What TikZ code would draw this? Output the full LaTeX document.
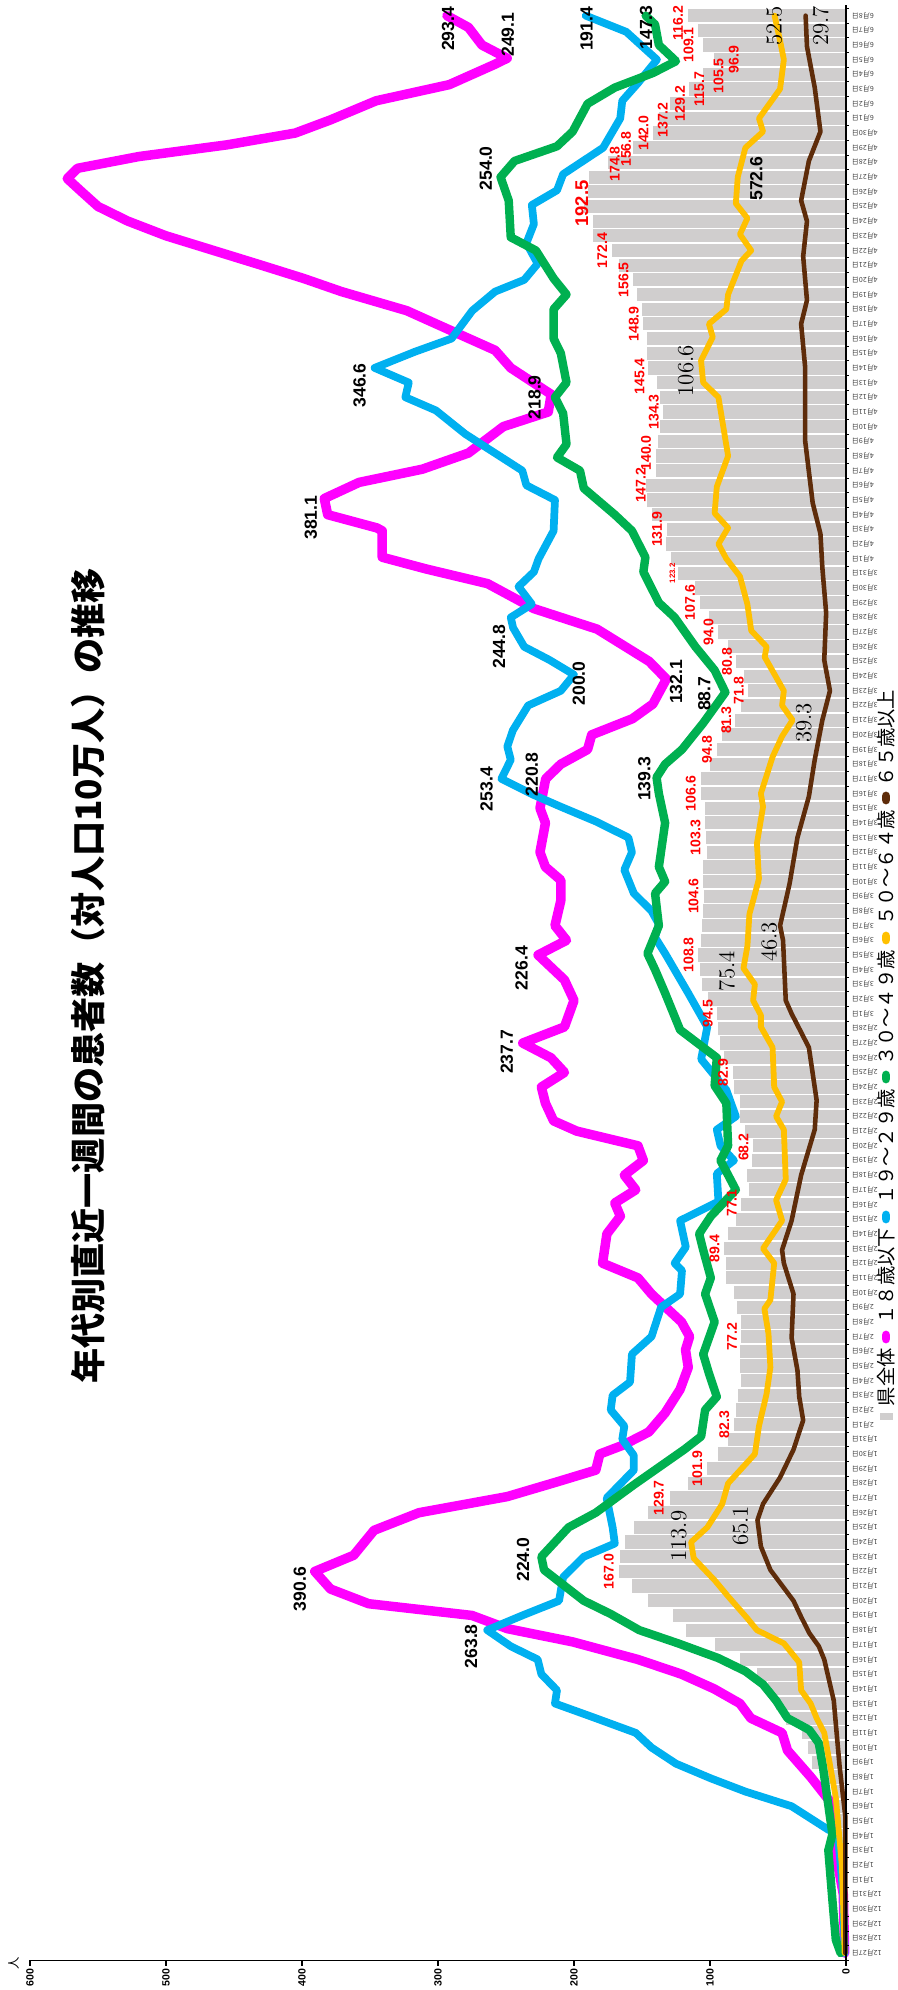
\documentclass[tikz,border=0pt]{standalone}
\usepackage{fontspec}
\newfontfamily\jp{Noto Sans CJK JP}
\newfontfamily\numf{Liberation Sans}
\definecolor{Mg}{RGB}{255,0,255}
\definecolor{Az}{RGB}{0,176,240}
\definecolor{Vd}{RGB}{0,176,80}
\definecolor{Nj}{RGB}{255,192,0}
\definecolor{Mr}{RGB}{94,44,10}
\definecolor{Gr}{RGB}{208,206,206}
\definecolor{Rj}{RGB}{255,0,0}
\tikzset{
  serie/.style={line width=#1, line join=round, line cap=round},
  barra/.style={fill=Gr},
  rotulo/.style={font=\numf\bfseries\fontsize{10}{10}\selectfont, rotate=90, inner sep=0pt},
  rotulorojo/.style={font=\numf\bfseries\fontsize{8}{8}\selectfont, text=Rj, rotate=90, inner sep=0pt},
  rotuloserif/.style={font=\fontsize{13}{13}\selectfont, rotate=90, inner sep=0pt},
  fecha/.style={font=\jp\fontsize{4}{4}\selectfont, text=black!75, rotate=180, anchor=east, inner sep=0.3pt},
  ejenum/.style={font=\numf\bfseries\fontsize{6}{6}\selectfont, rotate=90, anchor=east, inner sep=1pt},
  leyenda/.style={font=\jp\fontsize{11}{11}\selectfont, rotate=90, inner sep=0pt},
}
\begin{document}
\begin{tikzpicture}[x=0.02cm, y=-0.02cm]
  \useasboundingbox (0,0) rectangle (898,1990);

  %Titulo
  \node[rotate=90, font=\jp\bfseries\fontsize{20}{20}\selectfont] (titulo) at (88,976)
    {年代別直近一週間の患者数（対人口10万人）の推移};

  %Ejes de datos: x = dia, y = valor
  \begin{scope}[shift={(846,1953)}, x={(0cm,0.2936cm)}, y={(-0.0272cm,0cm)}]

    %Barras del total (県全体)
    \foreach \v [count=\i from 0] in {1,1,1.5,2,2,2.5,3,3.5,4,5,7,10,14,
      25,28.2,32.7,44.3,51.4,57.6,65.5,77.9,96.6,117.5,127.1,145.5,
      157,167.0,166,162.5,156,145.5,129.7,116,101.9,93.8,86.7,82.3,
      81,79.6,77.4,77.6,78,77.2,77.3,80.5,82,88,88.5,89.4,
      86.7,81,77.1,71,72.5,69,68.2,74.5,78,78,82.4,82.9,
      89.5,92.3,94.3,94.5,101.7,105.6,107,108.8,106.5,105.6,105,104.6,
      105,105,102,103.3,104,104,106.6,106.6,100,94.8,91,81.3,
      77,71.8,75,80.8,86.7,94.0,101,107.6,110.7,123.2,129,132,
      131.9,143,146,147.2,140,140.0,138,137,134.3,137,139,145.4,
      146,146,148.9,150,153.7,156.5,167,172.4,185.7,186,192.5,190,
      189,174.8,156.8,142.0,137.2,129.2,115.7,105.5,96.9,105,109.1,116.2}
      \fill[barra] (\i-0.45,0) rectangle (\i+0.45,\v);

    %18歳以下
    \draw[serie=5.4pt, Mg] plot coordinates {(0,1) (4,2) (6.8,7.5) (10,9) (12,26) (13.8,43) (15,47)
      (16,70) (17,78) (18,97) (19,121) (20,153) (21.2,201) (22.1,249) (23,275) (23.8,351) (24.8,379)
      (26,390.6) (27.1,362) (28.8,347) (30,314) (31.1,249) (32.1,212.5) (32.9,184) (34,181) (34.6,164)
      (35.5,145) (36.8,133) (38.4,122) (39.9,116) (41.1,118) (42,115) (43,121) (44.9,143) (46,153)
      (47,179) (49,175.8) (50.2,165.9) (51.1,170) (52,154.6) (53,163) (54,149) (55,153) (56,198)
      (56.7,215) (57.9,221) (59,224) (60,207) (61,217) (62,237.7) (63.1,207) (64.9,200) (66.3,207)
      (68,226.4) (69,205.5) (70,214) (71.7,209.7) (73.1,209.7) (74,221) (75,225) (77,221) (78,225)
      (80,220.8) (81,209.7) (82,190) (83,187) (84.1,157) (85.1,142) (86.8,132.1) (88,144.7) (90.2,183)
      (91.6,229.5) (93.3,263.5) (94.3,308.7) (95.1,341) (96.9,341) (97.1,345) (98,381.1) (99.1,383.6)
      (100.2,358) (101.1,311.5) (102.2,277.6) (104,252) (105,218.9) (106.2,216.8) (108,246.5)
      (109.2,258) (110.6,291.8) (111.9,323) (113.2,371) (114.1,399) (115,430) (116,465) (117,500)
      (118,528) (119,550) (120,562) (120.9,572.6) (121.6,565) (122.4,520) (123.2,455) (124,405)
      (124.9,379) (126.2,345.5) (127.3,291.7) (128.7,257.8) (129.1,249.1) (130,267.7) (131.2,277.6)
      (132,293.4)};

    %19～29歳
    \draw[serie=4.4pt, Az] plot coordinates {(0,1) (4,2) (8.1,6) (8.4,13) (10,40) (11,74) (11.9,99.4)
      (12.9,125) (14,143) (15,154.6) (16.1,187) (17,214) (17.9,212.5) (19,224) (20,226.7) (20.9,246.5)
      (22,263.8) (23,238) (24,211) (25.6,208) (27,192.8) (27.9,170) (29,171.6) (31,176) (32.9,156)
      (33.9,156) (35,164.5) (35.9,163) (37,173) (38,171.6) (38.9,158.8) (40.8,157.4) (42,143) (44,136)
      (44.9,122) (46.5,120.6) (47,126) (48.1,117.8) (49.9,122) (51.2,93.8) (53.1,95) (54,82.4)
      (55,92.3) (56.1,95) (57,81) (58.8,88) (60.9,106.5) (63.1,102) (65.4,116) (68.1,133) (69.2,140.4)
      (70.1,137.6) (71,143) (72.2,156) (73.8,163) (75,157.4) (76,160) (77.1,184) (78.1,209.7)
      (78.9,229.5) (80,253.4) (81.3,246.5) (82.2,249) (83.3,245) (85,233.7) (86,209.7) (87.1,200.0)
      (88.1,218) (89,236.6) (90.3,244.8) (91,246.5) (91.9,231) (93.1,240.8) (94.1,229.5) (95,226)
      (96.9,215) (99,214) (100,235) (101,238) (103.5,280) (105.1,301.5) (106,324) (107,321.5)
      (108,346.6) (109.1,317) (110,290) (111.9,274.8) (113.2,258) (114,236.6) (115.1,226.7)
      (116.5,235) (117.8,229.5) (119.1,231) (120.1,212.5) (121.2,208) (123,178.6) (125,166)
      (126.2,164.5) (127.4,153) (129,139) (130.9,161.6) (132,191.4)};

    %30～49歳
    \draw[serie=4.8pt, Vd] plot coordinates {(0,4) (0.9,7.5) (3.6,10) (7,13) (8.1,10) (12.7,17)
      (14.3,20) (15.2,27) (16,43) (17.2,51.4) (18.3,61) (19.2,74) (20.1,94) (21.1,123.5) (22,152)
      (23.1,173) (24,192.8) (26.1,222) (27,224.0) (29,204) (30,184) (31.9,156) (34.3,119) (35.2,106.5)
      (37,103.6) (37.9,95) (39.5,100.8) (40.8,105) (43,96.6) (44.9,103.6) (46,99.4) (47.9,105) (49,108)
      (50.2,99.4) (52,81) (54,92.3) (55,86.7) (57.9,88) (59.1,96.6) (61,95) (62.9,122) (65.4,133)
      (67,140.4) (68.1,146) (70,137.6) (72.2,140.4) (73,133) (74,137.6) (77,133) (79,137.6)
      (80.1,139.3) (81,133) (82,120.6) (83.8,105) (85.9,88.7) (87.4,96.6) (89,110.7) (91,126)
      (92,137.6) (94.1,149) (95.1,147.5) (96.9,157.4) (98,170) (99.8,192.8) (101,195.6) (101.9,212.5)
      (102.8,205.5) (104.9,208) (106,214) (107,205.5) (109,209.7) (110,215) (112,215) (113,205.5)
      (114.1,215) (116,228) (116.9,246.5) (119.4,248) (121,254.0) (122.1,243.7) (123.1,212.5)
      (124.1,201) (126,190) (127.1,170) (128.1,141.8) (128.9,125) (130,137.6) (131.4,140.4)
      (132,147.3)};

    %50～64歳
    \draw[serie=3.3pt, Nj] plot coordinates {(0,1) (5.9,3) (10.6,7.5) (15,16) (16,21.6) (17,26)
      (17.9,33) (19.8,34.4) (21.1,45.7) (22,65.5) (22.8,72.5) (24.3,86.7) (25.4,96.6) (26.9,112)
      (28,113.9) (29,102) (30.6,91) (32,86.7) (34,67) (35.9,64) (38.1,58.4) (39.9,55.6) (42.2,57)
      (43.9,60) (44.5,55.6) (47,52.8) (48,61) (49.9,47) (51.3,51.4) (52.7,44.3) (56.1,45.7) (57,51.4)
      (58,47) (59,52.8) (61.7,54) (63.1,62.6) (63.9,62.6) (64.9,68.3) (66,67) (67.1,75.4) (68.6,72.5)
      (70.8,71) (71.7,68.3) (73.2,64) (75.6,65.5) (78.1,61) (79,62.6) (81.5,54) (82.9,47) (84,39.3)
      (85,47) (86,45.7) (88.3,59.8) (89,58.4) (90.1,69.7) (91.9,72.5) (93.8,78) (95,88) (96,93.8)
      (97.1,86.7) (98.1,96.6) (99.9,95) (102,86.7) (106,93.8) (107,105) (108.5,106.6) (110.1,98)
      (111,100.8) (112,88) (113,86.7) (115.3,76.8) (116,69.7) (117.1,78) (118.2,72.5) (119.2,81)
      (121,79.6) (123,74) (124.1,61) (125,64) (127,48.5) (129,45.7) (130.3,48.5) (132,52.5)};

    %65歳以上
    \draw[serie=2.6pt, Mr] plot coordinates {(0,0.5) (9.3,0.5) (12.7,4.7) (17.2,9) (18.8,13) (20,16)
      (20.9,20) (21.8,27) (22.9,33) (24,38.6) (26.1,55.6) (27.7,62.6) (29.5,65.1) (30.6,61) (32.4,48.5)
      (34.3,38.6) (36.3,31.5) (37.9,34.4) (39.7,35.7) (41.9,40) (44.9,38.6) (47,45.7) (47.9,47)
      (49.9,40) (53,33) (56.1,23) (58.1,21.6) (61.7,27.3) (64,40) (64.9,44.3) (69,46.3) (70,48.5)
      (71.7,44.3) (72.9,41.4) (76,35.7) (78.8,27.3) (81.3,23) (84,17.4) (86,11.8) (88.1,16) (91.3,14.6)
      (94.4,17.4) (96.7,18.8) (98.8,24.5) (103,30) (108,30) (111,33) (112.6,28.7) (115.6,31.5)
      (118,28.7) (119.4,33) (122.1,27.3) (124.1,18.8) (127.1,23) (129.9,28.7) (132,29.7)};

    %Ejes
    \draw[thick] (-0.5,600) -- (-0.5,0) -- (132.7,0);
    \foreach \v in {0,100,...,600} {
      \draw[thick] (-0.5,\v) -- (-0.85,\v);
      \node[ejenum] (e\v) at (-0.95,\v) {\v};
    }
    \foreach \k in {-1,...,132}
      \draw (\k+0.5,0) -- (\k+0.5,-2.5);

    %Fechas
    \foreach \m/\a/\b/\s in {12/27/31/0, 1/1/31/5, 2/1/28/36, 3/1/31/64, 4/1/30/95, 6/1/8/125}
      \foreach \n in {\a,...,\b}
        \node[fecha] (f\m-\n) at ({\s+\n-\a},-3.7) {{\m}月{\n}日};

    %Rotulos del total
    \foreach \d/\v/\t [count=\j] in {26/174.4/167.0, 31/137.6/129.7, 33/109.3/101.9, 36/89.5/82.3,
      42/83.9/77.2, 48/96.6/89.4, 51.1/83.9/77.1, 54.9/75.4/68.2, 60/90.4/82.9, 64/101.7/94.5,
      68/115.8/108.8, 72/112.2/104.6, 76/110.7/103.3, 79/114.1/106.6, 82/102.2/94.8, 84/88/81.3,
      86/78.8/71.8, 88/87.5/80.8, 90/101/94.0, 92/114.7/107.6, 97/139/131.9, 100/150.9/147.2,
      102.2/147/140.0, 105/141.3/134.3, 107.4/151.7/145.4, 111/156/148.9, 114/163.6/156.5,
      116/179.2/172.4, 121.9/170.1/174.8, 122.9/161.7/156.8, 124/148.9/142.0, 124.9/134.8/137.2,
      126/122/129.2, 127/107.9/115.7, 127.9/93.8/105.5, 129/82.5/96.9, 130/115.8/109.1,
      131.5/123.5/116.2}
      \node[rotulorojo] (r\j) at (\d,\v) {\t};
    \node[rotulorojo, font=\numf\bfseries\fontsize{4.5}{4.5}\selectfont] (rchico) at (94,127.7) {123.2};
    \node[rotulorojo, font=\numf\bfseries\fontsize{10.5}{10.5}\selectfont] (rmax) at (119.2,194.2) {192.5};

    %Rotulos de picos
    \foreach \d/\v/\t [count=\j] in {24.8/401.5/390.6, 20.9/275.6/263.8, 26.8/237.5/224.0,
      61.4/249.3/237.7, 67.1/238.6/226.4, 79.3/264.3/253.4, 80.3/231/220.8, 80/148.3/139.3,
      89/255/244.8, 86.5/196.5/200.0, 86.6/124.9/132.1, 85.8/104.2/88.7, 97.8/393.5/381.1,
      106.8/357.6/346.6, 106/228.9/218.9, 121.6/264.9/254.0, 131.1/292.5/293.4,
      130.7/248.7/249.1, 131.1/190.8/191.4, 131.2/147/147.3, 120.9/66/572.6}
      \node[rotulo] (p\j) at (\d,\v) {\t};

    %Rotulos de 50～64 y 65以上
    \foreach \d/\v/\t [count=\j] in {28.4/122.9/113.9, 29.1/77.6/65.1, 66.9/87.5/75.4,
      68.9/56.5/46.3, 83.8/31/39.3, 107.8/117.8/106.6, 131.3/52.7/52.5, 131.3/18.7/29.7}
      \node[rotuloserif] (s\j) at (\d,\v) {\t};
  \end{scope}

  %Unidad
  \node[rotate=90, font=\jp\fontsize{7}{7}\selectfont] (unidad) at (14,1963) {人};

  %Leyenda
  \fill[Gr] (880,1413) rectangle (893,1420);
  \node[leyenda] (l0) at (886,1377) {県全体};
  \draw[serie=5pt, Mg] (886,1339) -- (886,1335);
  \node[leyenda] (l1) at (886,1276) {１８歳以下};
  \draw[serie=5pt, Az] (886,1219) -- (886,1215);
  \node[leyenda] (l2) at (886,1147) {１９～２９歳};
  \draw[serie=5pt, Vd] (886,1079) -- (886,1075);
  \node[leyenda] (l3) at (886,1008) {３０～４９歳};
  \draw[serie=5pt, Nj] (886,940) -- (886,936);
  \node[leyenda] (l4) at (886,868) {５０～６４歳};
  \draw[serie=5pt, Mr] (886,800) -- (886,796);
  \node[leyenda] (l5) at (886,738) {６５歳以上};
\end{tikzpicture}
\end{document}
